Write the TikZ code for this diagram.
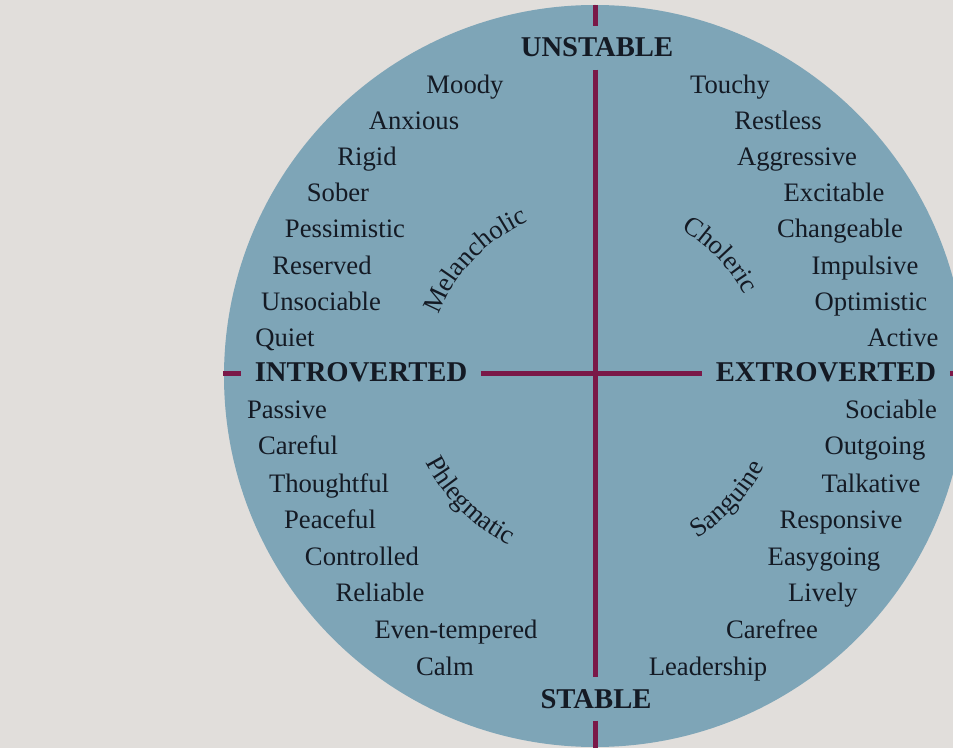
\documentclass[tikz,border=0pt]{standalone}
\usepackage{fontspec}
\setmainfont{Liberation Serif}
\usetikzlibrary{decorations.text,calc}
\definecolor{paper}{RGB}{225,222,219}
\definecolor{disc}{RGB}{126,165,183}
\definecolor{axiscol}{RGB}{122,24,72}
\definecolor{ink}{RGB}{20,26,36}
\newcommand\wordfont{\fontsize{20}{24}\selectfont}
\newcommand\capfont{\fontsize{21.5}{26}\selectfont\bfseries}
\begin{document}
\begin{tikzpicture}[x=0.75pt,y=0.75pt,
  word/.style={font=\wordfont, text=ink, inner sep=0pt, anchor=base},
  capword/.style={font=\capfont, text=ink, anchor=base},
  axisline/.style={draw=axiscol, line width=3.75pt},
  arclabel/.style={decorate, decoration={text along path, text align=center, text color=ink, text={|\wordfont|#1}}}]
\useasboundingbox (0,0) rectangle (953,-748);
\fill[paper] (0,0) rectangle (953,-748);
\begin{scope}
\clip (0,0) rectangle (953,-748);
\fill[disc] (595,-376) circle[radius=371];
\end{scope}
\coordinate (c) at (595,-376);

% axis labels
\node[capword, inner xsep=0pt, inner ysep=9pt] (unstable) at (597,-57) {UNSTABLE};
\node[capword, inner xsep=0pt, inner ysep=9pt] (stable) at (596,-708) {STABLE};
\node[capword, inner xsep=10pt, inner ysep=0pt] (introverted) at (361,-382) {INTROVERTED};
\node[capword, inner xsep=10pt, inner ysep=0pt] (extroverted) at (826,-382) {EXTROVERTED};

% axes
\coordinate (vtop) at (595,-5);
\coordinate (vbot) at (595,-748);
\coordinate (hleft) at (223,-374);
\coordinate (hright) at (953,-374);
\draw[axisline] (vtop) -- (vtop |- unstable.north);
\draw[axisline] (vtop |- unstable.south) -- (vtop |- stable.north);
\draw[axisline] (vtop |- stable.south) -- (vbot);
\draw[axisline] (hleft) -- (hleft -| introverted.west);
\draw[axisline] (hleft -| introverted.east) -- (hleft -| extroverted.west);
\draw[axisline] (hleft -| extroverted.east) -- (hright);

% upper left
\node[word] (moody) at (465,-94) {Moody};
\node[word] (anxious) at (414,-130) {Anxious};
\node[word] (rigid) at (367,-166) {Rigid};
\node[word] (sober) at (338,-202) {Sober};
\node[word] (pessimistic) at (345,-238) {Pessimistic};
\node[word] (reserved) at (322,-275) {Reserved};
\node[word] (unsociable) at (321,-311) {Unsociable};
\node[word] (quiet) at (285,-347) {Quiet};
% upper right
\node[word] (touchy) at (730,-94) {Touchy};
\node[word] (restless) at (778,-130) {Restless};
\node[word] (aggressive) at (797,-166) {Aggressive};
\node[word] (excitable) at (834,-202) {Excitable};
\node[word] (changeable) at (840,-238) {Changeable};
\node[word] (impulsive) at (865,-275) {Impulsive};
\node[word] (optimistic) at (871,-311) {Optimistic};
\node[word] (active) at (903,-347) {Active};
% lower left
\node[word] (passive) at (287,-419) {Passive};
\node[word] (careful) at (298,-455) {Careful};
\node[word] (thoughtful) at (329,-492) {Thoughtful};
\node[word] (peaceful) at (330,-528) {Peaceful};
\node[word] (controlled) at (362,-565) {Controlled};
\node[word] (reliable) at (380,-601) {Reliable};
\node[word] (eventempered) at (456,-638) {Even-tempered};
\node[word] (calm) at (445,-675) {Calm};
% lower right
\node[word] (sociable) at (891,-419) {Sociable};
\node[word] (outgoing) at (875,-455) {Outgoing};
\node[word] (talkative) at (871,-492) {Talkative};
\node[word] (responsive) at (841,-528) {Responsive};
\node[word] (easygoing) at (824,-565) {Easygoing};
\node[word] (lively) at (823,-601) {Lively};
\node[word] (carefree) at (772,-638) {Carefree};
\node[word] (leadership) at (708,-675) {Leadership};

% temperament labels on arcs
\path[arclabel=Melancholic] ($(c)+(172:168)$) arc[start angle=172, end angle=100, radius=168];
\path[arclabel=Choleric] ($(c)+(79:170)$) arc[start angle=79, end angle=9, radius=170];
\path[arclabel=Phlegmatic] ($(c)+(190:190)$) arc[start angle=190, end angle=260, radius=190];
\path[arclabel=Sanguine] ($(c)+(282:192)$) arc[start angle=282, end angle=352, radius=192];
\end{tikzpicture}
\end{document}
